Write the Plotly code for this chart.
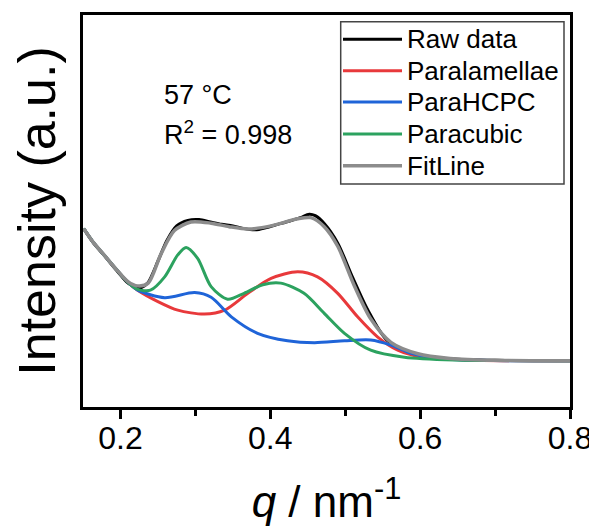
import plotly.graph_objects as go

# ---- data ----
raw_q = [0.151, 0.163, 0.179, 0.195, 0.210, 0.220, 0.228, 0.237, 0.250, 0.262, 0.275, 0.290, 0.305,
         0.320, 0.335, 0.350, 0.365, 0.380, 0.395, 0.410, 0.425, 0.440, 0.452, 0.460, 0.472, 0.490,
         0.510, 0.530, 0.555, 0.590, 0.640, 0.700, 0.800]
raw_y = [0.455, 0.421, 0.385, 0.348, 0.316, 0.306, 0.305, 0.318, 0.372, 0.425, 0.462, 0.476, 0.478,
         0.472, 0.466, 0.462, 0.455, 0.452, 0.458, 0.466, 0.474, 0.483, 0.492, 0.488, 0.468, 0.418,
         0.330, 0.248, 0.172, 0.135, 0.123, 0.119, 0.118]

lam_q = [0.151, 0.163, 0.179, 0.195, 0.210, 0.223, 0.250, 0.2765, 0.312, 0.339, 0.370, 0.401, 0.4365,
         0.463, 0.490, 0.5165, 0.543, 0.570, 0.601, 0.660, 0.800]
lam_y = [0.455, 0.422, 0.386, 0.350, 0.318, 0.298, 0.269, 0.247, 0.237, 0.247, 0.290, 0.328, 0.345,
         0.332, 0.290, 0.230, 0.179, 0.145, 0.128, 0.120, 0.118]

hcp_q = [0.151, 0.163, 0.179, 0.195, 0.210, 0.223, 0.259, 0.299, 0.321, 0.348, 0.383, 0.423, 0.459,
         0.499, 0.534, 0.561, 0.588, 0.623, 0.680, 0.800]
hcp_y = [0.455, 0.422, 0.386, 0.350, 0.318, 0.298, 0.279, 0.292, 0.280, 0.230, 0.188, 0.169, 0.164,
         0.169, 0.171, 0.158, 0.137, 0.124, 0.119, 0.118]

cub_q = [0.151, 0.163, 0.179, 0.195, 0.210, 0.223, 0.240, 0.259, 0.2765, 0.2876, 0.303, 0.321, 0.343,
         0.365, 0.390, 0.414, 0.445, 0.472, 0.499, 0.534, 0.579, 0.645, 0.800]
cub_y = [0.455, 0.422, 0.386, 0.350, 0.318, 0.300, 0.298, 0.332, 0.388, 0.407, 0.379, 0.307, 0.275,
         0.290, 0.312, 0.316, 0.290, 0.239, 0.188, 0.145, 0.127, 0.120, 0.118]

fit_q = [0.151, 0.163, 0.179, 0.195, 0.210, 0.223, 0.237, 0.254, 0.272, 0.294, 0.321, 0.345, 0.370,
         0.401, 0.436, 0.454, 0.472, 0.490, 0.512, 0.534, 0.561, 0.597, 0.640, 0.700, 0.800]
fit_y = [0.455, 0.422, 0.386, 0.350, 0.320, 0.309, 0.316, 0.390, 0.450, 0.472, 0.469, 0.460, 0.454,
         0.462, 0.480, 0.483, 0.460, 0.410, 0.310, 0.225, 0.165, 0.136, 0.124, 0.119, 0.118]

series_names = ["Raw data", "Paralamellae", "ParaHCPC", "Paracubic", "FitLine"]
series_q = [raw_q, lam_q, hcp_q, cub_q, fit_q]
series_y = [raw_y, lam_y, hcp_y, cub_y, fit_y]
series_colors = ["#000000", "#e8393b", "#1f64d8", "#2ca25f", "#8c8c8c"]
series_widths = [3, 3, 3, 3, 3.5]

FONT = "Liberation Sans, Arial, sans-serif"

# page body has an 8px default margin: figure is offset by 8px on screen
OFF = 8
W, H = 597 - OFF, 526 - OFF
PL, PR, PT, PB = 83, 570, 15, 407          # plot area in screen pixels

def px(x): return (x - PL) / (PR - PL)
def py(y): return (PB - y) / (PB - PT)

fig = go.Figure()
for name, xs, ys, col, w in zip(series_names, series_q, series_y, series_colors, series_widths):
    fig.add_trace(go.Scatter(x=xs, y=ys, name=name, mode="lines", showlegend=False,
                             line=dict(color=col, width=w, shape="spline", smoothing=0.8)))

# ---- legend (drawn in paper coordinates) ----
fig.add_shape(type="rect", xref="paper", yref="paper",
              x0=px(340.7), x1=px(564), y0=py(184), y1=py(21.7),
              line=dict(color="#444444", width=1.5), fillcolor="white", layer="above")
row_y = [39.3, 70.7, 102.0, 134.0, 165.7]
for name, col, w, ry in zip(series_names, series_colors, series_widths, row_y):
    fig.add_shape(type="line", xref="paper", yref="paper",
                  x0=px(343), x1=px(402), y0=py(ry), y1=py(ry),
                  line=dict(color=col, width=w), layer="above")
    fig.add_annotation(x=px(405), y=py(ry), xref="paper", yref="paper", text=name,
                       showarrow=False, xanchor="left", yanchor="middle",
                       font=dict(family=FONT, size=26, color="black"))

fig.add_annotation(x=px(162), y=py(95), xref="paper", yref="paper", text="57 °C",
                   showarrow=False, xanchor="left", yanchor="middle",
                   font=dict(family=FONT, size=27, color="black"))
fig.add_annotation(x=px(162), y=py(133), xref="paper", yref="paper", text="R<sup>2</sup> = 0.998",
                   showarrow=False, xanchor="left", yanchor="middle",
                   font=dict(family=FONT, size=27, color="black"))

fig.update_layout(
    width=W, height=H,
    margin=dict(l=PL - OFF, r=597 - PR, t=PT - OFF, b=526 - PB),
    paper_bgcolor="white", plot_bgcolor="white",
    font=dict(family=FONT, color="black"),
    showlegend=False,
    xaxis=dict(range=[0.15, 0.8], tick0=0.2, dtick=0.2, automargin=False,
               ticks="outside", ticklen=9, tickwidth=3, tickcolor="black",
               ticklabelstandoff=-8,
               minor=dict(dtick=0.1, ticks="outside", ticklen=6, tickwidth=3, tickcolor="black"),
               showline=True, linewidth=3, linecolor="black", mirror=True,
               showgrid=False, zeroline=False,
               tickfont=dict(family=FONT, size=32, color="black"),
               title=dict(text="<i>q</i> / nm<sup>-1</sup>", standoff=34,
                          font=dict(family=FONT, size=44, color="black"))),
    yaxis=dict(range=[0, 1], showticklabels=False, ticks="", automargin=False,
               showline=True, linewidth=3, linecolor="black", mirror=True,
               showgrid=False, zeroline=False,
               title=dict(text="Intensity (a.u.)", standoff=24,
                          font=dict(family=FONT, size=52, color="black"))),
)

fig.write_html("out.html")
